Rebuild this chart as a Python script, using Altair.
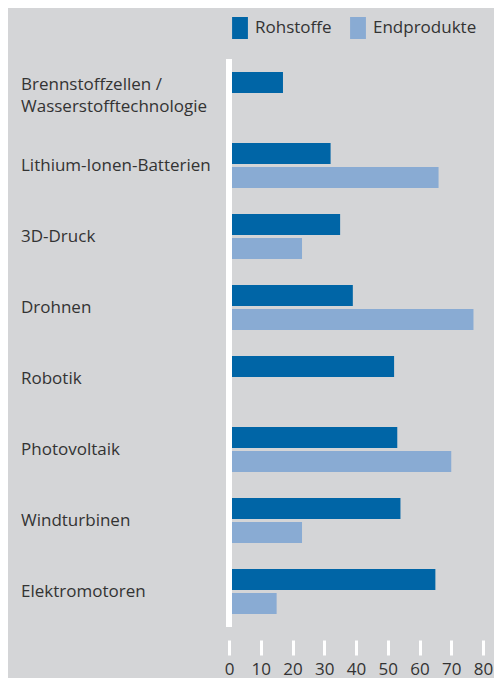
import altair as alt
import pandas as pd

categories = [
    "Brennstoffzellen / Wasserstofftechnologie",
    "Lithium-Ionen-Batterien",
    "3D-Druck",
    "Drohnen",
    "Robotik",
    "Photovoltaik",
    "Windturbinen",
    "Elektromotoren",
]
# label lines per category (first line, second line or empty)
label_line1 = [
    "Brennstoffzellen /",
    "Lithium-Ionen-Batterien",
    "3D-Druck",
    "Drohnen",
    "Robotik",
    "Photovoltaik",
    "Windturbinen",
    "Elektromotoren",
]
label_line2 = ["Wasserstofftechnologie", "", "", "", "", "", "", ""]
series = ["Rohstoffe", "Endprodukte"]
rohstoffe = [17, 32, 35, 39, 52, 53, 54, 65]
endprodukte = [None, 66, 23, 77, None, 70, 23, 15]
x_ticks = [0, 10, 20, 30, 40, 50, 60, 70, 80]
colors = ["#0065a6", "#89abd3"]

rows = []
for c, r, e in zip(categories, rohstoffe, endprodukte):
    if r is not None:
        rows.append({"Kategorie": c, "Serie": "Rohstoffe", "Wert": r})
    if e is not None:
        rows.append({"Kategorie": c, "Serie": "Endprodukte", "Wert": e})
df = pd.DataFrame(rows)

single = pd.DataFrame(
    [{"Kategorie": c, "Text": a} for c, a, b in zip(categories, label_line1, label_line2) if not b]
)
first = pd.DataFrame(
    [{"Kategorie": c, "Text": a} for c, a, b in zip(categories, label_line1, label_line2) if b]
)
second = pd.DataFrame(
    [{"Kategorie": c, "Text": b} for c, a, b in zip(categories, label_line1, label_line2) if b]
)

FONT = "Open Sans"
TEXT = "#333333"
BG = "#d4d5d7"
LABEL_SIZE = 17

x_scale = alt.Scale(domain=[0, 80], nice=False)
x_axis = alt.Axis(
    values=x_ticks,
    title=None,
    grid=False,
    domain=False,
    ticks=True,
    tickSize=15,
    tickWidth=3,
    tickColor="white",
    offset=13,
    labelPadding=6,
    labelFontSize=17,
    labelColor=TEXT,
    labelFont=FONT,
    labelFlush=False,
    labelOverlap=False,
    labelSeparation=0,
)

bars = alt.Chart(df).mark_bar(cornerRadius=0).encode(
    x=alt.X("Wert:Q", scale=x_scale, axis=x_axis),
    y=alt.Y(
        "Kategorie:N",
        sort=categories,
        scale=alt.Scale(paddingInner=0, paddingOuter=0),
        axis=None,
    ),
    yOffset=alt.YOffset(
        "Serie:N",
        sort=series,
        scale=alt.Scale(domain=series, paddingInner=0.125, paddingOuter=0.5417),
    ),
    color=alt.Color(
        "Serie:N",
        scale=alt.Scale(domain=series, range=colors),
        legend=alt.Legend(
            title=None,
            orient="none",
            direction="horizontal",
            legendX=0,
            legendY=-42,
            padding=0,
            symbolType="M-0.72,-1H0.72V1H-0.72Z",
            symbolSize=484,
            symbolStrokeWidth=0,
            symbolOpacity=1,
            labelOffset=4,
            columnPadding=15,
            labelFontSize=17,
            labelColor=TEXT,
            labelFont=FONT,
        ),
    ),
)

zero_line = alt.Chart(pd.DataFrame({"Wert": [0]})).mark_rule(
    color="white", strokeWidth=6
).encode(x=alt.X("Wert:Q", scale=x_scale, axis=x_axis))

def label_layer(data, dy):
    return alt.Chart(data).mark_text(
        align="left",
        baseline="middle",
        dy=dy,
        font=FONT,
        fontSize=LABEL_SIZE,
        color=TEXT,
    ).encode(
        y=alt.Y("Kategorie:N", sort=categories, axis=None),
        x=alt.value(-208),
        text="Text:N",
    )

chart = (
    alt.layer(
        bars,
        zero_line,
        label_layer(single, 0),
        label_layer(first, -10),
        label_layer(second, 12),
    )
    .properties(
        width=254,
        height=568,
        background=BG,
        autosize=alt.AutoSizeParams(type="none"),
        padding={"left": 221, "top": 51, "right": 11, "bottom": 51},
    )
    .configure_view(stroke=None)
)

chart.save("out.html", embed_options={"renderer": "svg", "actions": False})
